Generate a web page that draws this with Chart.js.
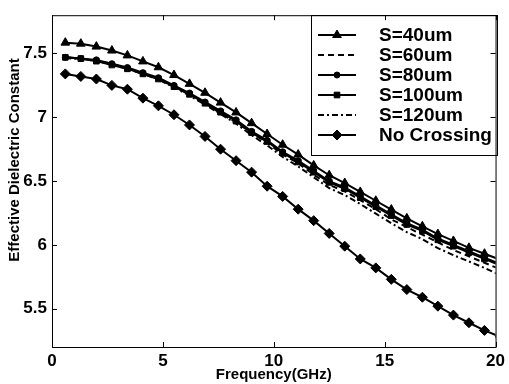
<!DOCTYPE html>
<html>
<head>
<meta charset="utf-8">
<script src="https://cdn.jsdelivr.net/npm/chart.js@4.4.1/dist/chart.umd.min.js"></script>
<style>
body{margin:0;background:#fff}
#wrap{width:509px;height:384px;position:relative}
</style>
</head>
<body>
<div id="wrap"><canvas id="grafica"></canvas></div>
<script>
// frecuencias (GHz) de los puntos
var freq = [0.6,1.3,2.0,2.7,3.4,4.1,4.8,5.5,6.2,6.9,7.6,8.3,9.0,9.7,10.4,11.1,11.8,12.5,13.2,13.9,14.6,15.3,16.0,16.7,17.4,18.1,18.8,19.5,20.2]

var s40 = [7.585,7.577,7.554,7.523,7.485,7.438,7.392,7.331,7.262,7.192,7.115,7.038,6.954,6.869,6.785,6.708,6.623,6.546,6.485,6.415,6.346,6.277,6.208,6.146,6.085,6.031,5.977,5.931,5.885]
var s60 = [7.47,7.46,7.44,7.42,7.38,7.34,7.30,7.24,7.18,7.11,7.03,6.96,6.88,6.80,6.71,6.64,6.55,6.47,6.42,6.35,6.28,6.20,6.14,6.08,6.02,5.96,5.91,5.86,5.81]
var s80 = [7.47,7.46,7.45,7.42,7.39,7.35,7.31,7.25,7.19,7.12,7.05,6.98,6.89,6.82,6.73,6.66,6.58,6.50,6.45,6.38,6.31,6.24,6.17,6.12,6.05,6.00,5.95,5.90,5.85]
var s100 = [7.47,7.46,7.44,7.41,7.38,7.34,7.30,7.24,7.18,7.11,7.04,6.97,6.88,6.81,6.72,6.65,6.57,6.49,6.44,6.37,6.30,6.23,6.16,6.11,6.04,5.99,5.94,5.89,5.84]
var s120 = [7.465,7.455,7.445,7.41,7.38,7.34,7.295,7.235,7.17,7.10,7.025,6.95,6.86,6.78,6.69,6.615,6.53,6.445,6.39,6.32,6.245,6.17,6.10,6.045,5.975,5.92,5.87,5.82,5.765]
var noCross = [7.34,7.32,7.30,7.25,7.22,7.15,7.09,7.02,6.94,6.85,6.75,6.66,6.57,6.46,6.38,6.28,6.19,6.09,5.99,5.89,5.82,5.73,5.65,5.59,5.52,5.45,5.39,5.33,5.28]

var nombres = ['S=40um','S=60um','S=80um','S=100um','S=120um','No Crossing']
var xTicks = [0,5,10,15,20]
var yTicks = [5.5,6,6.5,7,7.5]

function pares(vals){
    var out = []
    for(var i=0;i<freq.length;i++){
        out.push({x: freq[i], y: vals[i]})
    }
    return out
}

var fuente = "'Liberation Sans', Arial, sans-serif"

function serie(nombre, vals, punto, radio, guion){
    return {
        label: nombre,
        data: pares(vals),
        borderColor: '#000',
        backgroundColor: '#000',
        borderWidth: 2,
        borderDash: guion,
        pointStyle: punto,
        pointRadius: radio,
        pointHoverRadius: radio,
        pointBorderWidth: 1,
        fill: false,
        tension: 0,
        clip: 0
    }
}

var series = [
    serie(nombres[0], s40, 'triangle', 5, []),
    serie(nombres[1], s60, 'circle', 0, [6,4]),
    serie(nombres[2], s80, 'circle', 3, []),
    serie(nombres[3], s100, 'rect', 4, []),
    serie(nombres[4], s120, 'circle', 0, [6,3,2,3]),
    serie(nombres[5], noCross, 'rectRot', 5, [])
]

// caja, marcas hacia dentro y titulo del eje y
var marco = {
    id: 'marco',
    afterDraw: function(chart){
        var ctx = chart.ctx
        var a = chart.chartArea
        var sx = chart.scales.x
        var sy = chart.scales.y
        ctx.save()
        ctx.strokeStyle = '#000'
        ctx.lineWidth = 1
        ctx.strokeRect(a.left + 0.5, a.top + 0.5, a.right - a.left, a.bottom - a.top)
        ctx.beginPath()
        xTicks.forEach(function(v){
            var px = Math.round(sx.getPixelForValue(v)) + 0.5
            ctx.moveTo(px, a.bottom); ctx.lineTo(px, a.bottom - 5)
            ctx.moveTo(px, a.top); ctx.lineTo(px, a.top + 5)
        })
        yTicks.forEach(function(v){
            var py = Math.round(sy.getPixelForValue(v)) + 0.5
            ctx.moveTo(a.left, py); ctx.lineTo(a.left + 5, py)
            ctx.moveTo(a.right, py); ctx.lineTo(a.right - 5, py)
        })
        ctx.stroke()

        ctx.translate(15, 160)
        ctx.rotate(-Math.PI/2)
        ctx.fillStyle = '#000'
        ctx.font = 'bold 15px ' + fuente
        ctx.textAlign = 'center'
        ctx.textBaseline = 'middle'
        ctx.fillText('Effective Dielectric Constant', 0, 0)
        ctx.restore()
    }
}

// leyenda dentro de la grafica
var leyenda = {
    id: 'leyenda',
    afterDatasetsDraw: function(chart){
        var ctx = chart.ctx
        var x0 = 311, y0 = 15, w = 186, h = 140
        ctx.save()
        ctx.fillStyle = '#fff'
        ctx.fillRect(x0, y0, w, h)
        ctx.strokeStyle = '#000'
        ctx.lineWidth = 1
        ctx.strokeRect(x0 + 0.5, y0 + 0.5, w, h)
        ctx.font = 'bold 19px ' + fuente
        ctx.textBaseline = 'middle'
        for(var k=0;k<series.length;k++){
            var d = series[k]
            var yy = y0 + 20 + k*20
            ctx.strokeStyle = '#000'
            ctx.lineWidth = 2
            ctx.setLineDash(d.borderDash)
            ctx.beginPath()
            ctx.moveTo(318, yy)
            ctx.lineTo(356, yy)
            ctx.stroke()
            ctx.setLineDash([])
            if(d.pointRadius > 0){
                ctx.fillStyle = '#000'
                ctx.lineWidth = 1
                Chart.helpers.drawPoint(ctx, {pointStyle: d.pointStyle, radius: d.pointRadius, borderWidth: 1}, 337, yy)
            }
            ctx.fillStyle = '#000'
            ctx.fillText(d.label, 379, yy + 1)
        }
        ctx.restore()
    }
}

const ctx = document.getElementById('grafica')
const grafica = new Chart(ctx, {
    type: 'line',
    data: { datasets: series },
    options: {
        responsive: true,
        maintainAspectRatio: false,
        animation: false,
        layout: { padding: { top: 8, right: 10, left: 0, bottom: 0 } },
        plugins: {
            legend: { display: false },
            tooltip: { enabled: false }
        },
        scales: {
            x: {
                type: 'linear',
                min: 0,
                max: 20,
                grid: { display: false, drawTicks: false },
                border: { display: false },
                afterBuildTicks: function(s){ s.ticks = xTicks.map(function(v){ return {value: v} }) },
                afterFit: function(s){ s.height = 37 },
                ticks: {
                    color: '#000',
                    padding: 4,
                    maxRotation: 0,
                    font: { family: fuente, size: 17, weight: 'bold' },
                    callback: function(v){ return String(v) }
                },
                title: {
                    display: true,
                    text: 'Frequency(GHz)',
                    color: '#000',
                    padding: 0,
                    font: { family: fuente, size: 15, weight: 'bold' }
                }
            },
            y: {
                min: 5.2,
                max: 7.8,
                grid: { display: false, drawTicks: false },
                border: { display: false },
                afterBuildTicks: function(s){ s.ticks = yTicks.map(function(v){ return {value: v} }) },
                afterFit: function(s){ s.width = 52 },
                ticks: {
                    color: '#000',
                    padding: 5,
                    font: { family: fuente, size: 17, weight: 'bold' },
                    callback: function(v){ return String(v) }
                }
            }
        }
    },
    plugins: [marco, leyenda]
});
</script>
</body>
</html>
